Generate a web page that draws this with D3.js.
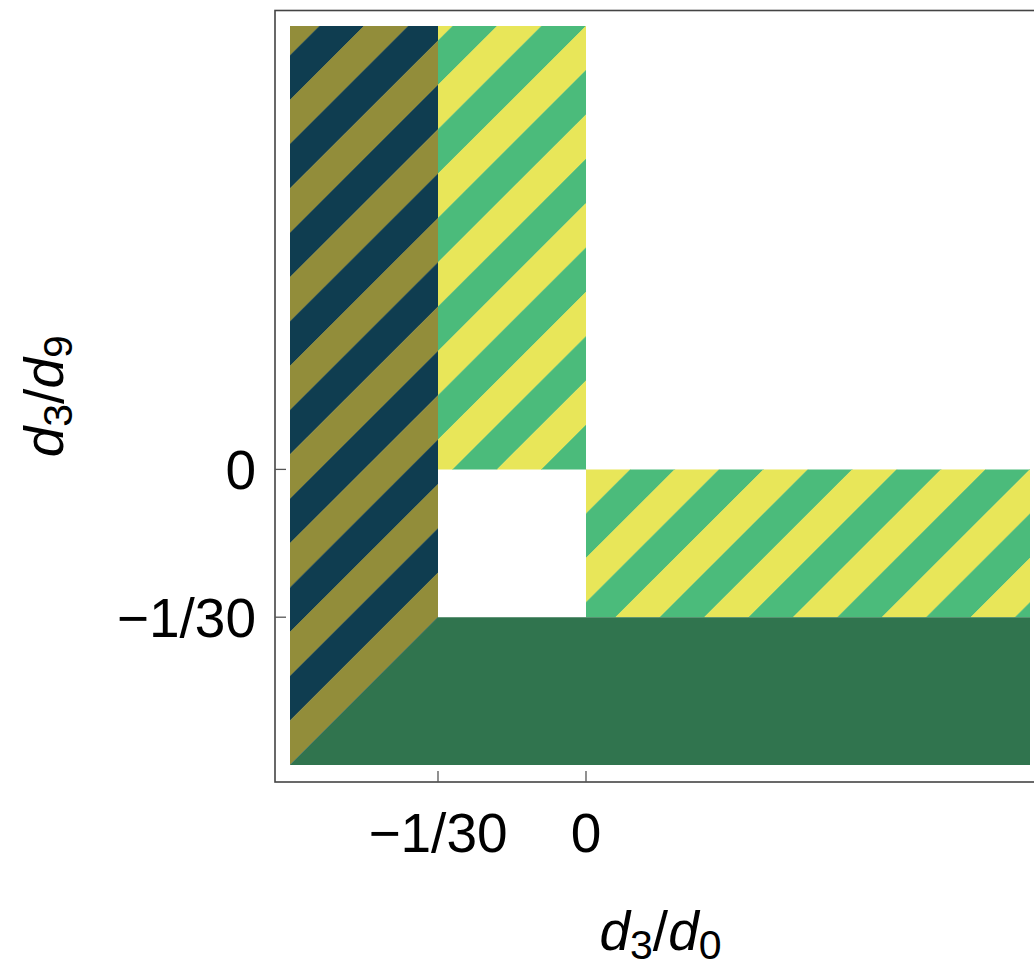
<!DOCTYPE html>
<html>
<head>
<meta charset="utf-8">
<script src="https://cdn.jsdelivr.net/npm/d3@7"></script>
<style>
  body { margin: 0; background: #fff; }
  text { font-family: "Liberation Sans", Arial, sans-serif; fill: #000; }
</style>
</head>
<body>
<div id="chart"></div>
<script>
// data (in d3/d0, d3/d9 units)
var xDomain = [-2/30, 0.1];
var yDomain = [-2/30, 0.1];
var xTicks = [-1/30, 0];
var yTicks = [-1/30, 0];
var tickLabels = ["\u22121/30", "0"];
var stripeStep = 0.01;

// region outlines
var regionLeft = [[-2/30, 0.1], [-1/30, 0.1], [-1/30, -1/30], [-2/30, -2/30]];
var regionTop = [[-1/30, 0], [0, 0], [0, 0.1], [-1/30, 0.1]];
var regionRight = [[0, -1/30], [0.1, -1/30], [0.1, 0], [0, 0]];
var regionBottom = [[-2/30, -2/30], [-1/30, -1/30], [0.1, -1/30], [0.1, -2/30]];

var regions = [
  {id: "left", pts: regionLeft, kind: "blue"},
  {id: "top", pts: regionTop, kind: "yellow"},
  {id: "right", pts: regionRight, kind: "yellow"},
  {id: "bottom", pts: regionBottom, kind: "solid"}
];

var palette = {
  blue: ["#0f3d50", "#928d3a"],
  yellow: ["#e8e659", "#4bbb7b"],
  solid: ["#30744e"]
};

var width = 1034, height = 968;
var svg = d3.select("#chart").append("svg")
  .attr("width", width).attr("height", height);

var xScale = d3.scaleLinear().domain(xDomain).range([290, 1030]);
var yScale = d3.scaleLinear().domain(yDomain).range([765, 26]);

var frame = {left: 275, right: 1046, top: 10.5, bottom: 782};

var line = d3.line()
  .x(function(d){ return xScale(d[0]); })
  .y(function(d){ return yScale(d[1]); });

var defs = svg.append("defs");

regions.forEach(function(r){
  var cols = palette[r.kind];
  if (cols.length == 1) {
    svg.append("path")
      .attr("d", line(r.pts) + "Z")
      .attr("fill", cols[0]);
    return;
  }
  defs.append("clipPath").attr("id", "clip-" + r.id)
    .append("path").attr("d", line(r.pts) + "Z");

  var g = svg.append("g").attr("clip-path", "url(#clip-" + r.id + ")");
  // stripes along x - y = k*step
  var bands = d3.range(-30, 30);
  g.selectAll("path.band")
    .data(bands)
    .enter()
    .append("path")
    .attr("class", "band")
    .attr("d", function(k){
      var c1 = k * stripeStep, c2 = (k + 1) * stripeStep;
      var a = -0.3, b = 0.3;
      return line([[a, a - c1], [b, b - c1], [b, b - c2], [a, a - c2]]) + "Z";
    })
    .attr("fill", function(k){ return cols[((k % 2) + 2) % 2]; })
    .attr("stroke", function(k){ return cols[((k % 2) + 2) % 2]; })
    .attr("stroke-width", 0.5);
});

// frame
svg.append("rect")
  .attr("x", frame.left).attr("y", frame.top)
  .attr("width", frame.right - frame.left)
  .attr("height", frame.bottom - frame.top)
  .attr("fill", "none")
  .attr("stroke", "#444")
  .attr("stroke-width", 1.6);

// ticks
svg.selectAll("line.xt")
  .data(xTicks).enter().append("line")
  .attr("x1", function(d){ return xScale(d); })
  .attr("x2", function(d){ return xScale(d); })
  .attr("y1", frame.bottom).attr("y2", frame.bottom - 11)
  .attr("stroke", "#555").attr("stroke-width", 1.3);

svg.selectAll("line.yt")
  .data(yTicks).enter().append("line")
  .attr("y1", function(d){ return yScale(d); })
  .attr("y2", function(d){ return yScale(d); })
  .attr("x1", frame.left).attr("x2", frame.left + 11)
  .attr("stroke", "#555").attr("stroke-width", 1.3);

// tick labels
svg.selectAll("text.xl")
  .data(xTicks).enter().append("text")
  .attr("x", function(d){ return xScale(d); })
  .attr("y", 852)
  .attr("text-anchor", "middle")
  .style("font-size", "55px")
  .text(function(d, i){ return tickLabels[i]; });

svg.selectAll("text.yl")
  .data(yTicks).enter().append("text")
  .attr("x", 256)
  .attr("y", function(d){ return yScale(d) + 20; })
  .attr("text-anchor", "end")
  .style("font-size", "55px")
  .text(function(d, i){ return tickLabels[i]; });

// axis titles
function title(sel, sub1, sub2){
  sel.append("tspan").style("font-style", "italic").text("d");
  sel.append("tspan").style("font-size", "41px").attr("dy", 9).text(sub1);
  sel.append("tspan").attr("dy", -9).text("/");
  sel.append("tspan").style("font-style", "italic").text("d");
  sel.append("tspan").style("font-size", "41px").attr("dy", 9).text(sub2);
}

var xt = svg.append("text")
  .attr("x", (frame.left + frame.right) / 2)
  .attr("y", 950)
  .attr("text-anchor", "middle")
  .style("font-size", "55px");
title(xt, "3", "0");

var yt = svg.append("text")
  .attr("transform", "translate(63," + ((frame.top + frame.bottom) / 2) + ") rotate(-90)")
  .attr("text-anchor", "middle")
  .style("font-size", "55px");
title(yt, "3", "9");
</script>
</body>
</html>
